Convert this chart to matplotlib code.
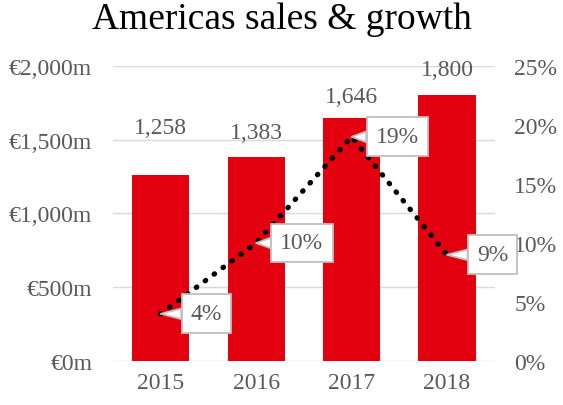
import matplotlib.pyplot as plt
import matplotlib.ticker as ticker

years = ['2015', '2016', '2017', '2018']
sales = [1258, 1383, 1646, 1800]
growth = [4, 10, 19, 9]

red = '#e3000f'
grey = '#595959'

plt.rcParams['font.family'] = ['Liberation Serif', 'DejaVu Serif']

fig = plt.figure(figsize=(5.63, 4.06), dpi=100)
ax = fig.add_axes([0.2007, 0.1084, 0.678, 0.7266])
ax2 = ax.twinx()

x = list(range(len(years)))
ax.bar(x, sales, width=0.6, color=red, zorder=2)
ax.set_xlim(-0.5, 3.5)
ax.set_ylim(0, 2000)
ax.set_yticks([0, 500, 1000, 1500, 2000])
ax.yaxis.set_major_formatter(ticker.FuncFormatter(lambda v, p: f'€{v:,.0f}m'))
ax.set_xticks(x)
ax.set_xticklabels(years)
ax.grid(axis='y', color='#d9d9d9', linewidth=1, zorder=0)
ax.set_axisbelow(True)

# sales labels above the bars (first one sits a bit higher)
label_pad = [27, 10, 8, 11]
for xi, v, pad in zip(x, sales, label_pad):
    ax.annotate(f'{v:,}', (xi, v), xytext=(0, pad), textcoords='offset points',
                ha='center', va='bottom', fontsize=17, color=grey)

ax2.set_ylim(0, 25)
ax2.set_yticks([0, 5, 10, 15, 20, 25])
ax2.yaxis.set_major_formatter(ticker.FuncFormatter(lambda v, p: f'{v:.0f}%'))
ax2.plot(x, growth, color='black', linewidth=3.8, linestyle=(0, (0.1, 2.0)),
         dash_capstyle='round', zorder=3)

for xi, g in zip(x, growth):
    ax2.annotate(f'{g}%', (xi, g), xytext=(33, 0), textcoords='offset points',
                 ha='center', va='center', fontsize=17, color=grey,
                 bbox=dict(boxstyle='square,pad=0.38', fc='white', ec='#bfbfbf', lw=1.3),
                 arrowprops=dict(arrowstyle='wedge,tail_width=0.45,shrink_factor=0.5',
                                 fc='white', ec='#bfbfbf', lw=1.3, shrinkA=0, shrinkB=0),
                 zorder=4)

for a in (ax, ax2):
    for s in a.spines.values():
        s.set_visible(False)
    a.tick_params(length=0, labelsize=17, colors=grey)
ax.tick_params(axis='y', pad=15)
ax2.tick_params(axis='y', pad=14)
ax.tick_params(axis='x', pad=8)

fig.suptitle('Americas sales & growth', fontsize=27, y=0.995)

fig.savefig('out.png', dpi=100)
